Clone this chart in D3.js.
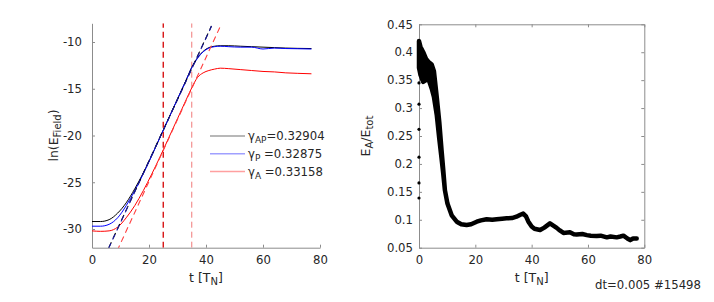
<!DOCTYPE html>
<html>
<head>
<meta charset="utf-8">
<script src="https://cdn.jsdelivr.net/npm/d3@7"></script>
<style>
  body { margin: 0; background: #fff; }
  svg { display: block; font-family: 'DejaVu Sans', sans-serif; }
  .axis text { fill: #262626; font-size: 11.7px; font-family: 'DejaVu Sans', sans-serif; }
  .axis path, .axis line { stroke: #8c8c8c; }
</style>
</head>
<body>
<svg id="chart" width="714" height="302"></svg>
<script>
// left panel: ln(E_Field) vs t
const tLeft = [0, 3, 6, 9, 12, 15, 18, 21, 24, 27, 30, 33, 35, 37, 39, 41, 43, 45, 48, 52, 56, 60, 64, 68, 72, 77];
const lnAP = [-29.2, -29.2, -29.0, -28.3, -27.2, -25.7, -24.0, -22.1, -20.1, -18.1, -16.1, -14.1, -12.7, -11.7, -11.0, -10.6, -10.45, -10.4, -10.4, -10.45, -10.5, -10.55, -10.6, -10.65, -10.68, -10.7];
const lnP  = [-29.7, -29.7, -29.5, -28.8, -27.5, -25.9, -24.1, -22.15, -20.1, -18.1, -16.1, -14.1, -12.75, -11.75, -11.05, -10.65, -10.5, -10.45, -10.5, -10.55, -10.55, -10.75, -10.65, -10.7, -10.72, -10.75];
const lnA  = [-30.2, -30.25, -30.2, -29.8, -28.8, -27.5, -25.9, -24.1, -22.2, -20.2, -18.2, -16.2, -14.9, -13.8, -13.3, -13.05, -12.9, -12.8, -12.85, -12.95, -13.05, -13.15, -13.2, -13.3, -13.35, -13.4];

// fitted growth rates and the fit value at t = 25
const fitNames = ['AP', 'P', 'A'];
const fitGamma = [0.32904, 0.32875, 0.33158];
const fitAt25 = [-19.42, -19.45, -21.6];
const fitTop = -8.3;
const markerTimes = [25, 35];

// right panel: E_A/E_tot vs t (envelope of the noisy trace)
const tRight = [0, 0.5, 1.5, 2.5, 3.3, 4.5, 5.3, 6.3, 7.2, 8.0, 8.6, 9.2, 10.1, 11.6, 13.4, 15, 16.9, 18.5, 20.5, 22, 24, 26, 27.6, 29.5, 31.1, 33, 34.6, 36, 37, 38, 38.8, 40, 41, 43, 44.5, 46.5, 48.9, 50, 51.3, 53.6, 55, 56, 58, 59.6, 61, 63.1, 64.5, 66.7, 68, 70.2, 71.5, 72.6, 74, 75, 76, 77.3];
const ratioLo = [0.372, 0.36, 0.347, 0.35, 0.353, 0.335, 0.32, 0.288, 0.245, 0.21, 0.183, 0.153, 0.129, 0.108, 0.0966, 0.092, 0.0906, 0.092, 0.0966, 0.099, 0.101, 0.100, 0.101, 0.102, 0.1026, 0.103, 0.1055, 0.109, 0.111, 0.106, 0.097, 0.088, 0.084, 0.0817, 0.086, 0.0935, 0.0855, 0.081, 0.0765, 0.0775, 0.074, 0.0735, 0.0745, 0.0725, 0.0715, 0.071, 0.0715, 0.0685, 0.070, 0.0685, 0.070, 0.0715, 0.0665, 0.0635, 0.0665, 0.0665];
const ratioHi = [0.42, 0.41, 0.40, 0.388, 0.383, 0.378, 0.366, 0.32, 0.275, 0.225, 0.19, 0.153, 0.129, 0.108, 0.0966, 0.092, 0.0906, 0.092, 0.0966, 0.099, 0.101, 0.100, 0.101, 0.102, 0.1026, 0.103, 0.1055, 0.109, 0.111, 0.106, 0.097, 0.088, 0.084, 0.0817, 0.086, 0.0935, 0.0855, 0.081, 0.0765, 0.0775, 0.074, 0.0735, 0.0745, 0.0725, 0.0715, 0.071, 0.0715, 0.0685, 0.070, 0.0685, 0.070, 0.0715, 0.0665, 0.0635, 0.0665, 0.0665];
const startDots = [0.345, 0.307, 0.262, 0.212, 0.166, 0.139];

const xTicks = [0, 20, 40, 60, 80];
const yTicksLeft = [-30, -25, -20, -15, -10];
const yTicksRight = [0.05, 0.1, 0.15, 0.2, 0.25, 0.3, 0.35, 0.4, 0.45];

const svg = d3.select('#chart');
const textColor = '#262626';

// ---------- left panel ----------
const xL = d3.scaleLinear().domain([0, 80]).range([92, 320]);
const yL = d3.scaleLinear().domain([-32, -8]).range([247.7, 23.3]);

svg.append('clipPath').attr('id', 'clipL')
  .append('rect')
    .attr('x', xL(0)).attr('y', yL(-8))
    .attr('width', xL(80) - xL(0)).attr('height', yL(-32) - yL(-8));

svg.append('g')
    .attr('class', 'axis')
    .attr('transform', `translate(0,${yL(-32)})`)
    .call(d3.axisBottom(xL).tickValues(xTicks).tickSize(-3).tickSizeOuter(0).tickPadding(8).tickFormat(d => String(d)));

svg.append('g')
    .attr('class', 'axis')
    .attr('transform', `translate(${xL(0)},0)`)
    .call(d3.axisLeft(yL).tickValues(yTicksLeft).tickSize(-3).tickSizeOuter(0).tickPadding(10).tickFormat(d => String(d)));

const plotL = svg.append('g').attr('clip-path', 'url(#clipL)');

// vertical markers
plotL.selectAll('line.marker')
  .data(markerTimes)
  .join('line')
    .attr('class', 'marker')
    .attr('x1', d => xL(d)).attr('x2', d => xL(d))
    .attr('y1', yL(-32)).attr('y2', yL(-8))
    .attr('stroke', (d, i) => i === 0 ? '#d40000' : '#f07a7a')
    .attr('stroke-width', (d, i) => i === 0 ? 1.3 : 1)
    .attr('stroke-dasharray', '6,4');

const curveColors = ['#000000', '#0000ff', '#ff0000'];
const curves = [lnAP, lnP, lnA];
const lineL = d3.line().x(d => xL(d[0])).y(d => yL(d[1])).curve(d3.curveMonotoneX);

curves.forEach((vals, i) => {
  plotL.append('path')
    .datum(tLeft.map((t, j) => [t, vals[j]]))
    .attr('fill', 'none')
    .attr('stroke', curveColors[i])
    .attr('stroke-width', 1)
    .attr('d', lineL);
});

// fitted exponential growth lines (slope 2*gamma in ln of energy)
const fitColors = ['#000000', '#1a1aa0', '#ff4040'];
fitGamma.forEach((g, i) => {
  const tEnd = 25 + (fitTop - fitAt25[i]) / (2 * g);
  const ts = [0, tEnd];
  plotL.append('path')
    .datum(ts.map(t => [t, fitAt25[i] + 2 * g * (t - 25)]))
    .attr('fill', 'none')
    .attr('stroke', fitColors[i])
    .attr('stroke-width', 1.1)
    .attr('stroke-dasharray', '6,4')
    .attr('stroke-dashoffset', i === 1 ? 1 : 0)
    .attr('d', d3.line().x(d => xL(d[0])).y(d => yL(d[1])));
});

// legend
const legendColors = ['#a0a0a0', '#a0a0ff', '#ffa0a0'];
const legend = svg.append('g').attr('transform', 'translate(210,136)');
fitNames.forEach((name, i) => {
  const row = legend.append('g').attr('transform', `translate(0,${i * 17.8})`);
  row.append('line').attr('x1', 0).attr('x2', 35).attr('y1', 0).attr('y2', 0)
    .attr('stroke', legendColors[i]).attr('stroke-width', 1.5);
  const t = row.append('text').attr('x', 38).attr('y', 4).attr('fill', textColor).attr('font-size', 11.7);
  t.append('tspan').text('γ');
  t.append('tspan').attr('dy', 3).attr('font-size', 9).text(name);
  t.append('tspan').attr('dy', -3).text((name === 'AP' ? '' : ' ') + '=' + fitGamma[i].toFixed(5));
});

// axis labels
const ylabL = svg.append('text')
  .attr('transform', `translate(58,${(yL(-8) + yL(-32)) / 2}) rotate(-90)`)
  .attr('text-anchor', 'middle').attr('fill', textColor).attr('font-size', 12.5);
ylabL.append('tspan').text('ln(E');
ylabL.append('tspan').attr('dy', 3).attr('font-size', 10).text('Field');
ylabL.append('tspan').attr('dy', -3).text(')');

function timeLabel(cx) {
  const t = svg.append('text')
    .attr('x', cx).attr('y', 282)
    .attr('text-anchor', 'middle').attr('fill', textColor).attr('font-size', 12.5);
  t.append('tspan').text('t [T');
  t.append('tspan').attr('dy', 3).attr('font-size', 10).text('N');
  t.append('tspan').attr('dy', -3).text(']');
}
timeLabel((xL(0) + xL(80)) / 2);

// ---------- right panel ----------
const xR = d3.scaleLinear().domain([0, 80]).range([419, 644.3]);
const yR = d3.scaleLinear().domain([0.05, 0.45]).range([247.7, 24.3]);

svg.append('g')
    .attr('class', 'axis')
    .attr('transform', `translate(0,${yR(0.05)})`)
    .call(d3.axisBottom(xR).tickValues(xTicks).tickSize(-3).tickSizeOuter(0).tickPadding(8).tickFormat(d => String(d)));
svg.append('g')
    .attr('class', 'axis')
    .attr('transform', `translate(0,${yR(0.45)})`)
    .call(d3.axisTop(xR).tickValues(xTicks).tickSize(-3).tickSizeOuter(0).tickFormat(''));
svg.append('g')
    .attr('class', 'axis')
    .attr('transform', `translate(${xR(0)},0)`)
    .call(d3.axisLeft(yR).tickValues(yTicksRight).tickSize(-3).tickSizeOuter(0).tickPadding(6).tickFormat(d => String(+d.toFixed(2))));
svg.append('g')
    .attr('class', 'axis')
    .attr('transform', `translate(${xR(80)},0)`)
    .call(d3.axisRight(yR).tickValues(yTicksRight).tickSize(-3).tickSizeOuter(0).tickFormat(''));

const band = d3.area()
  .x(d => xR(d.t))
  .y0(d => yR(d.lo))
  .y1(d => yR(d.hi));
const ratioData = tRight.map((t, i) => ({t, lo: ratioLo[i], hi: ratioHi[i]}));

svg.append('path')
  .datum(ratioData)
  .attr('fill', '#000')
  .attr('stroke', '#000')
  .attr('stroke-width', 4.5)
  .attr('stroke-linejoin', 'round')
  .attr('d', band);

svg.append('g')
  .selectAll('circle')
  .data(startDots)
  .join('circle')
    .attr('cx', xR(0))
    .attr('cy', d => yR(d))
    .attr('r', 1.6)
    .attr('fill', '#000');

const ylabR = svg.append('text')
  .attr('transform', `translate(370,${(yR(0.45) + yR(0.05)) / 2}) rotate(-90)`)
  .attr('text-anchor', 'middle').attr('fill', textColor).attr('font-size', 12.5);
ylabR.append('tspan').text('E');
ylabR.append('tspan').attr('dy', 3).attr('font-size', 10).text('A');
ylabR.append('tspan').attr('dy', -3).text('/E');
ylabR.append('tspan').attr('dy', 3).attr('font-size', 10).text('tot');

timeLabel((xR(0) + xR(80)) / 2);

svg.append('text')
  .attr('x', 595).attr('y', 289)
  .attr('fill', textColor).attr('font-size', 11.7)
  .text('dt=0.005 #15498');
</script>
</body>
</html>
